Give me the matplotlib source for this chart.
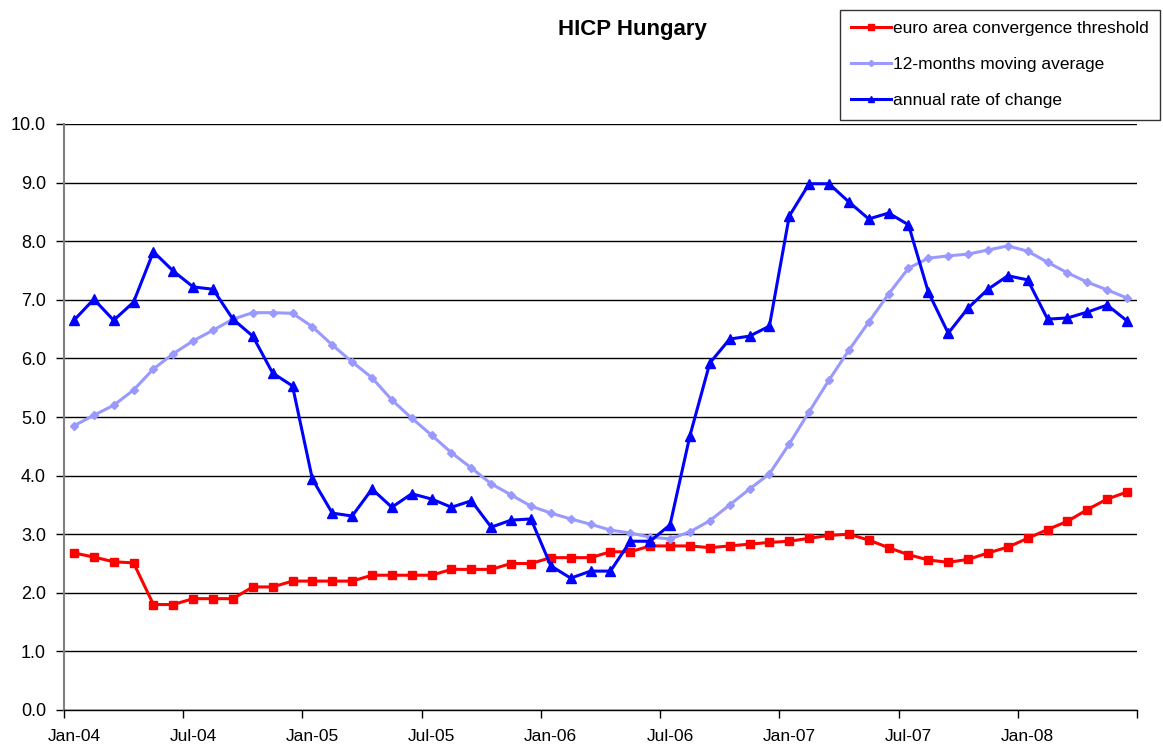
import matplotlib
matplotlib.use("Agg")
import matplotlib.pyplot as plt
import numpy as np

# ----------------------------------------------------------------
# Data: monthly values, Jan-04 .. Jun-08 (54 months)
# ----------------------------------------------------------------
tick_labels = ["Jan-04", "Jul-04", "Jan-05", "Jul-05", "Jan-06",
               "Jul-06", "Jan-07", "Jul-07", "Jan-08"]

threshold = [2.68, 2.61, 2.53, 2.51, 1.80, 1.80, 1.90, 1.90, 1.90, 2.10,
             2.10, 2.20, 2.20, 2.20, 2.20, 2.30, 2.30, 2.30, 2.30, 2.40,
             2.40, 2.40, 2.50, 2.50, 2.60, 2.60, 2.60, 2.70, 2.70, 2.80,
             2.80, 2.80, 2.77, 2.80, 2.83, 2.86, 2.88, 2.93, 2.98, 3.00,
             2.90, 2.77, 2.65, 2.56, 2.52, 2.57, 2.68, 2.78, 2.93, 3.08,
             3.22, 3.42, 3.60, 3.72]

moving_avg = [4.85, 5.03, 5.20, 5.46, 5.82, 6.08, 6.30, 6.48, 6.67, 6.78,
              6.78, 6.77, 6.54, 6.23, 5.94, 5.67, 5.29, 4.98, 4.69, 4.39,
              4.13, 3.86, 3.67, 3.48, 3.36, 3.26, 3.17, 3.07, 3.02, 2.95,
              2.92, 3.04, 3.23, 3.50, 3.77, 4.03, 4.54, 5.09, 5.63, 6.14,
              6.62, 7.10, 7.54, 7.71, 7.75, 7.78, 7.85, 7.92, 7.83, 7.64,
              7.46, 7.30, 7.17, 7.03]

annual_rate = [6.65, 7.01, 6.65, 6.96, 7.82, 7.49, 7.22, 7.18, 6.67, 6.38,
               5.75, 5.53, 3.94, 3.36, 3.31, 3.77, 3.46, 3.69, 3.60, 3.46,
               3.57, 3.12, 3.24, 3.26, 2.46, 2.25, 2.37, 2.37, 2.88, 2.88,
               3.16, 4.68, 5.92, 6.33, 6.38, 6.55, 8.43, 8.98, 8.98, 8.67,
               8.38, 8.48, 8.28, 7.13, 6.43, 6.86, 7.18, 7.41, 7.34, 6.67,
               6.69, 6.79, 6.91, 6.64]

plt.rcParams["font.family"] = ["Liberation Sans", "DejaVu Sans"]

n = len(annual_rate)
x = np.arange(n) + 0.5  # points sit between category ticks

fig = plt.figure(figsize=(11.63, 7.47), dpi=100)
ax = fig.add_axes([64 / 1163, 1 - 710 / 747, (1137 - 64) / 1163, (710 - 124) / 747])

l1, = ax.plot(x, threshold, color="#FF0000", lw=2.2, marker="s", ms=6,
              label="euro area convergence threshold", zorder=3)
l2, = ax.plot(x, moving_avg, color="#9999FF", lw=2.2, marker="D", ms=4.5,
              label="12-months moving average", zorder=3)
l3, = ax.plot(x, annual_rate, color="#0000FF", lw=2.2, marker="^", ms=6.5,
              label="annual rate of change", zorder=4)

ax.set_xlim(0, n)
ax.set_ylim(0, 10)
ax.set_yticks(np.arange(0, 11, 1))
ax.set_yticklabels([f"{v:.1f}" for v in range(11)], fontsize=13)

# tick marks on month boundaries, labels centred on the category
ax.set_xticks(np.arange(0, n + 1, 6))
ax.set_xticklabels([])
ax.set_xticks(np.arange(0, 49, 6) + 0.5, minor=True)
ax.set_xticklabels(tick_labels, minor=True, fontsize=12.5)
ax.tick_params(axis="x", which="minor", length=0, pad=14)
ax.tick_params(axis="both", which="major", direction="out", length=6,
               width=1, color="black")
ax.tick_params(axis="y", pad=7)

ax.yaxis.grid(True, color="black", lw=1)
ax.set_axisbelow(True)
for s in ["top", "right"]:
    ax.spines[s].set_visible(False)
ax.spines["left"].set_color("#808080")
ax.spines["left"].set_linewidth(1.5)
ax.spines["bottom"].set_color("black")
ax.spines["bottom"].set_linewidth(1)

fig.text(632 / 1163, 1 - 29 / 747, "HICP Hungary", fontsize=16,
         fontweight="bold", ha="center", va="center")

leg = fig.legend(handles=[l1, l2, l3], loc="upper right",
                 bbox_to_anchor=(1160 / 1163, 1 - 10 / 747),
                 fontsize=12.5, frameon=True, fancybox=False,
                 labelspacing=1.2, handlelength=2.3, handletextpad=0.1,
                 borderpad=0.65, markerscale=0.7, borderaxespad=0)
leg.get_frame().set_edgecolor("black")
leg.get_frame().set_linewidth(1)

fig.savefig("out.png", dpi=100)
